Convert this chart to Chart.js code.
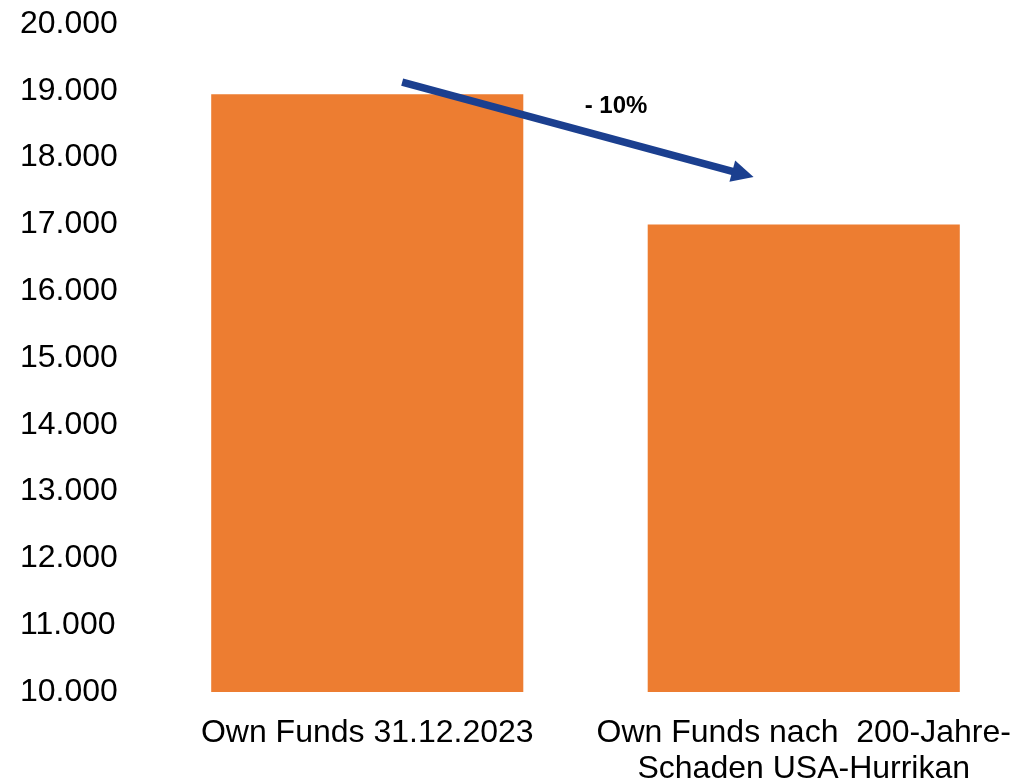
<!DOCTYPE html>
<html>
<head>
<meta charset="utf-8">
<script src="https://cdn.jsdelivr.net/npm/chart.js@4.4.1/dist/chart.umd.min.js"></script>
<style>
  html, body { margin: 0; padding: 0; background: #ffffff; }
  #wrap { width: 1031px; height: 782px; }
</style>
</head>
<body>
<div id="wrap"><canvas id="ownFundsChart"></canvas></div>
<script>
// Kategorien und Werte (Mio.)
const kategorien = [
  "Own Funds 31.12.2023",
  ["Own Funds nach  200-Jahre-", "Schaden USA-Hurrikan"]
];
const ownFunds = [18950, 17000];

// Pfeil zwischen den Balken: Start/Ende als (Kategorie-Index, Wert)
const pfeilStart = [0.08, 19130];
const pfeilEnde = [0.885, 17710];
const pfeilText = "- 10%";
const pfeilTextPos = [0.57, 18770];

const orange = "#ED7D31";
const blau = "#1B3F8F";

// Pfeil mit Beschriftung über den Balken zeichnen
const pfeilPlugin = {
  id: "pfeil",
  afterDatasetsDraw(chart) {
    const { ctx, scales: { x, y } } = chart;
    const x1 = x.getPixelForValue(pfeilStart[0]);
    const y1 = y.getPixelForValue(pfeilStart[1]);
    const x2 = x.getPixelForValue(pfeilEnde[0]);
    const y2 = y.getPixelForValue(pfeilEnde[1]);
    const winkel = Math.atan2(y2 - y1, x2 - x1);
    const kopfLaenge = 22;
    const kopfBreite = 11;
    const bx = x2 - kopfLaenge * Math.cos(winkel);
    const by = y2 - kopfLaenge * Math.sin(winkel);

    ctx.save();
    ctx.strokeStyle = blau;
    ctx.fillStyle = blau;
    ctx.lineWidth = 7.5;
    ctx.beginPath();
    ctx.moveTo(x1, y1);
    ctx.lineTo(bx + 2 * Math.cos(winkel), by + 2 * Math.sin(winkel));
    ctx.stroke();

    ctx.beginPath();
    ctx.moveTo(x2, y2);
    ctx.lineTo(bx + kopfBreite * Math.sin(winkel), by - kopfBreite * Math.cos(winkel));
    ctx.lineTo(bx - kopfBreite * Math.sin(winkel), by + kopfBreite * Math.cos(winkel));
    ctx.closePath();
    ctx.fill();

    // Beschriftung oberhalb der Pfeilmitte
    ctx.fillStyle = "#000000";
    ctx.font = "bold 24px 'Liberation Sans', Arial, sans-serif";
    ctx.textAlign = "center";
    ctx.textBaseline = "middle";
    ctx.fillText(pfeilText, x.getPixelForValue(pfeilTextPos[0]), y.getPixelForValue(pfeilTextPos[1]));
    ctx.restore();
  }
};

const ctx = document.getElementById("ownFundsChart").getContext("2d");

new Chart(ctx, {
  type: "bar",
  data: {
    labels: kategorien,
    datasets: [{
      label: "Own Funds",
      data: ownFunds,
      backgroundColor: orange,
      borderWidth: 0,
      barPercentage: 0.715,
      categoryPercentage: 1
    }]
  },
  options: {
    responsive: true,
    maintainAspectRatio: false,
    animation: false,
    layout: {
      autoPadding: false,
      padding: { left: 20, right: 9, top: 24, bottom: 0 }
    },
    plugins: {
      legend: { display: false },
      tooltip: { enabled: false }
    },
    scales: {
      x: {
        grid: { display: false, drawTicks: false },
        border: { display: false },
        afterFit: (scale) => {
          scale.height = 90;
          scale.paddingLeft = 0;
          scale.paddingRight = 0;
        },
        ticks: {
          color: "#000000",
          padding: 23,
          maxRotation: 0,
          autoSkip: false,
          font: { family: "'Liberation Sans', Arial, sans-serif", size: 32, lineHeight: 1.13 }
        }
      },
      y: {
        min: 10000,
        max: 20000,
        grid: { display: false, drawTicks: false },
        border: { display: false },
        afterFit: (scale) => { scale.width = 129; },
        ticks: {
          stepSize: 1000,
          color: "#000000",
          padding: 0,
          crossAlign: "far",
          font: { family: "'Liberation Sans', Arial, sans-serif", size: 32 },
          callback: (wert) => wert.toLocaleString("de-DE")
        }
      }
    }
  },
  plugins: [pfeilPlugin]
});
</script>
</body>
</html>
